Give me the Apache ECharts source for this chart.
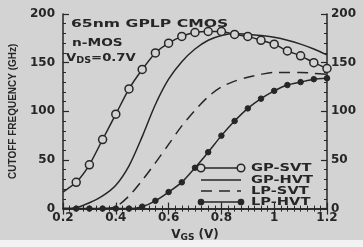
<!DOCTYPE html>
<html>
<head>
<meta charset="utf-8">
<script src="https://cdn.jsdelivr.net/npm/echarts@6/dist/echarts.min.js"></script>
<style>
  html, body { margin: 0; padding: 0; background: #d3d3d3; }
  #chart { width: 363px; height: 247px; }
</style>
</head>
<body>
<div id="chart"></div>
<script>
// gate voltage steps (V)
const vgs = [0.2, 0.25, 0.3, 0.35, 0.4, 0.45, 0.5, 0.55, 0.6, 0.65, 0.7, 0.75, 0.8, 0.85, 0.9, 0.95, 1.0, 1.05, 1.1, 1.15, 1.2];
// cutoff frequency (GHz)
const gpSvt = [17, 27, 45, 71, 97, 123, 143, 160, 170, 177, 181, 182, 182, 179, 177, 173, 169, 162, 157, 150, 144];
const gpHvt = [0, 1, 6, 13, 24, 44, 74, 107, 133, 151, 164, 173, 178, 180, 179, 178, 176, 173, 169, 164, 158];
const lpSvt = [null, null, null, 0, 2, 13, 29, 47, 66, 85, 101, 115, 125, 131, 135, 138, 140, 140, 140, 139, 138];
const lpHvt = [0, 0, 0, 0, 0, 0, 2, 8, 17, 27, 42, 58, 75, 90, 103, 113, 121, 127, 130, 133, 134];
const yTicks = [0, 50, 100, 150, 200];

const ink = '#262626';
const bg = '#d3d3d3';
const font = 'DejaVu Sans';

function pairs(arr, noSymbolFirst) {
  const out = [];
  arr.forEach((v, i) => {
    if (v === null) return;
    if (noSymbolFirst && i === 0) out.push({ value: [vgs[i], v], symbol: 'none' });
    else out.push([vgs[i], v]);
  });
  return out;
}

const chart = echarts.init(document.getElementById('chart'));

const axisCommon = {
  axisLine: { show: true, lineStyle: { color: ink, width: 1.5 } },
  axisTick: { show: true, inside: true, length: 6, lineStyle: { color: ink, width: 1.2 } },
  minorTick: { show: true, length: 3, lineStyle: { color: ink, width: 1 } },
  splitLine: { show: false }
};

// legend drawn by hand: symbols sit at both ends of the sample line
const legendRows = [
  { name: 'GP-SVT', y: 168, dash: null, sym: 'hollow' },
  { name: 'GP-HVT', y: 180, dash: null, sym: null },
  { name: 'LP-SVT', y: 191, dash: [11, 7], sym: null },
  { name: 'LP-HVT', y: 202, dash: null, sym: 'dot' }
];
const legendGraphics = [];
legendRows.forEach(r => {
  legendGraphics.push({
    type: 'line', shape: { x1: 201, y1: r.y, x2: 241, y2: r.y },
    style: { stroke: ink, lineWidth: 1.5, lineDash: r.dash }
  });
  if (r.sym) {
    [201, 241].forEach(cx => {
      legendGraphics.push({
        type: 'circle', shape: { cx: cx, cy: r.y, r: r.sym === 'hollow' ? 3.8 : 2.6 },
        style: { fill: r.sym === 'hollow' ? bg : ink, stroke: ink, lineWidth: 1.5 }
      });
    });
  }
  legendGraphics.push({
    type: 'text', x: 251, y: r.y, scaleX: 1.33,
    style: { text: r.name, font: 'bold 11px "' + font + '"', fill: ink, textVerticalAlign: 'middle' }
  });
});

chart.setOption({
  backgroundColor: bg,
  animation: false,
  grid: { left: 61, right: 36, top: 14, bottom: 35 },
  xAxis: [
    Object.assign({}, axisCommon, {
      type: 'value', min: 0.2, max: 1.2, interval: 0.2,
      minorTick: Object.assign({}, axisCommon.minorTick, { splitNumber: 8 }),
      axisLabel: { color: ink, fontFamily: font, fontWeight: 'bold', fontSize: 12, margin: 3 },
      name: '{v|V}{s|GS}{v| (V)}', nameLocation: 'middle', nameGap: 18,
      nameTextStyle: {
        rich: {
          v: { color: ink, fontFamily: font, fontWeight: 'bold', fontSize: 12 },
          s: { color: ink, fontFamily: font, fontWeight: 'bold', fontSize: 9, padding: [6, 0, 0, 0] }
        }
      }
    }),
    Object.assign({}, axisCommon, {
      type: 'value', min: 0.2, max: 1.2, interval: 0.2, position: 'top',
      minorTick: Object.assign({}, axisCommon.minorTick, { splitNumber: 8 }),
      axisLabel: { show: false }
    })
  ],
  yAxis: [
    Object.assign({}, axisCommon, {
      type: 'value', min: yTicks[0], max: yTicks[yTicks.length - 1], interval: 50,
      minorTick: Object.assign({}, axisCommon.minorTick, { splitNumber: 5 }),
      axisLabel: { color: ink, fontFamily: font, fontWeight: 'bold', fontSize: 12, margin: 8 },
      name: 'CUTOFF FREQUENCY (GHz)', nameLocation: 'middle', nameGap: 45,
      nameTextStyle: { color: ink, fontFamily: 'Liberation Sans', fontWeight: 'bold', fontSize: 10 }
    }),
    Object.assign({}, axisCommon, {
      type: 'value', min: yTicks[0], max: yTicks[yTicks.length - 1], interval: 50, position: 'right',
      minorTick: Object.assign({}, axisCommon.minorTick, { splitNumber: 5 }),
      axisLabel: { color: ink, fontFamily: font, fontWeight: 'bold', fontSize: 12, margin: 4 }
    })
  ],
  series: [
    {
      name: 'GP-SVT', type: 'line', data: pairs(gpSvt, true), smooth: 0.2, clip: false,
      symbol: 'circle', symbolSize: 8, showAllSymbol: true,
      lineStyle: { color: ink, width: 1.5 },
      itemStyle: { color: bg, borderColor: ink, borderWidth: 1.5 }
    },
    {
      name: 'GP-HVT', type: 'line', data: pairs(gpHvt), smooth: 0.3, showSymbol: false,
      lineStyle: { color: ink, width: 1.5 }
    },
    {
      name: 'LP-SVT', type: 'line', data: pairs(lpSvt), smooth: 0.3, showSymbol: false,
      lineStyle: { color: ink, width: 1.5, type: [11, 7] }
    },
    {
      name: 'LP-HVT', type: 'line', data: pairs(lpHvt, true), smooth: 0.2, clip: false,
      symbol: 'circle', symbolSize: 5.5, showAllSymbol: true,
      lineStyle: { color: ink, width: 1.5 },
      itemStyle: { color: ink, borderColor: ink, borderWidth: 1 }
    }
  ],
  graphic: [
    { type: 'rect', shape: { x: 0, y: 240, width: 363, height: 7 }, style: { fill: '#f2f2f2' }, z: -1 },
    {
      type: 'text', x: 71, y: 24, scaleX: 1.42,
      style: { text: '65nm GPLP CMOS', font: 'bold 11px "' + font + '"', fill: ink, textVerticalAlign: 'middle' }
    },
    {
      type: 'text', x: 72, y: 43, scaleX: 1.25,
      style: { text: 'n-MOS', font: 'bold 11px "' + font + '"', fill: ink, textVerticalAlign: 'middle' }
    },
    {
      type: 'text', x: 66, y: 58, scaleX: 1.2,
      style: {
        text: '{v|V}{s|DS}{v|=0.7V}',
        textVerticalAlign: 'middle',
        rich: {
          v: { font: 'bold 11px "' + font + '"', fill: ink },
          s: { font: 'bold 8px "' + font + '"', fill: ink, padding: [6, 0, 0, 0] }
        }
      }
    }
  ].concat(legendGraphics)
});
</script>
</body>
</html>
